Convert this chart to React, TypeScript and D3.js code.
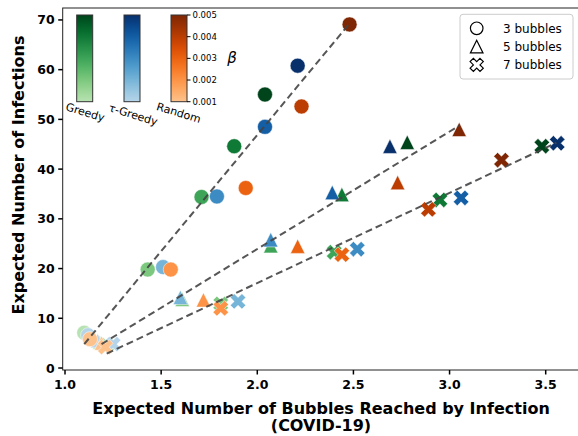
import * as d3 from 'd3';
import React, { useEffect, useRef } from 'react';

// beta values (colour scale) and method names
const betas = [0.001, 0.002, 0.003, 0.004, 0.005];
const methods = ['Greedy', 'τ-Greedy', 'Random'];
const bubbleLabels = ['3 bubbles', '5 bubbles', '7 bubbles'];

// 3 bubbles (circles)
const greedy3X = [1.10, 1.43, 1.71, 1.88, 2.04];
const greedy3Y = [7.1, 19.8, 34.4, 44.6, 55.0];
const tau3X = [1.12, 1.51, 1.79, 2.04, 2.21];
const tau3Y = [6.6, 20.3, 34.5, 48.5, 60.8];
const rand3X = [1.13, 1.55, 1.94, 2.23, 2.48];
const rand3Y = [5.8, 19.8, 36.2, 52.6, 69.1];

// 5 bubbles (triangles)
const greedy5X = [1.18, 1.61, 2.07, 2.44, 2.78];
const greedy5Y = [5.2, 13.8, 24.6, 34.9, 45.4];
const tau5X = [1.17, 1.60, 2.07, 2.39, 2.69];
const tau5Y = [5.5, 14.2, 25.8, 35.3, 44.6];
const rand5X = [1.19, 1.72, 2.21, 2.73, 3.05];
const rand5Y = [5.0, 13.7, 24.5, 37.3, 48.0];

// 7 bubbles (crosses)
const greedy7X = [1.22, 1.81, 2.40, 2.95, 3.48];
const greedy7Y = [4.6, 12.9, 23.3, 33.8, 44.6];
const tau7X = [1.25, 1.90, 2.52, 3.06, 3.56];
const tau7Y = [4.8, 13.4, 23.9, 34.2, 45.2];
const rand7X = [1.21, 1.81, 2.44, 2.89, 3.27];
const rand7Y = [4.2, 12.0, 22.8, 31.9, 41.8];

// fitted trend lines, [x0, y0, x1, y1]
const fit3 = [1.10, 4.8, 2.48, 69.3];
const fit5 = [1.19, 4.8, 3.053, 48.8];
const fit7 = [1.217, 2.9, 3.556, 45.3];

const xTicks = [1.0, 1.5, 2.0, 2.5, 3.0, 3.5];
const yTicks = [0, 10, 20, 30, 40, 50, 60, 70];
const cbTicks = [0.001, 0.002, 0.003, 0.004, 0.005];

const FONT = 'DejaVu Sans';

const App = () => {
  const svgRef = useRef();

  useEffect(() => {
    const svg = d3.select(svgRef.current);
    svg.selectAll('*').remove();

    const x = d3.scaleLinear().domain([0.988, 3.668]).range([62.7, 578]);
    const y = d3.scaleLinear().domain([-0.4, 72.4]).range([370, 8]);

    const interps = [d3.interpolateGreens, d3.interpolateBlues, d3.interpolateOranges];
    const tOf = d3.scaleLinear().domain([0.001, 0.005]).range([0.3, 1.0]);
    const colorOf = (m, b) => interps[m](tOf(b));

    // marker shapes
    const circlePath = (r) => d3.symbol(d3.symbolCircle, Math.PI * r * r)();
    const trianglePath = (h) => `M0,${-h}L${-h},${h}L${h},${h}Z`;
    const crossPath = (a) => {
      const pts = [[-1, -3], [1, -3], [1, -1], [3, -1], [3, 1], [1, 1], [1, 3], [-1, 3], [-1, 1], [-3, 1], [-3, -1], [-1, -1]];
      const c = Math.SQRT1_2;
      return d3.line()(pts.map(([px, py]) => {
        const sx = (px * a) / 3;
        const sy = (py * a) / 3;
        return [sx * c - sy * c, sx * c + sy * c];
      })) + 'Z';
    };
    const shapes = [circlePath(7.5), trianglePath(7.2), crossPath(8.2)];

    // axes frame
    svg.append('rect')
      .attr('x', 62.7).attr('y', 8)
      .attr('width', 578 - 62.7 + 2).attr('height', 370 - 8)
      .attr('fill', 'none').attr('stroke', '#222').attr('stroke-width', 1);

    // points, grouped by method then bubble count
    const series = [
      [[greedy3X, greedy3Y], [greedy5X, greedy5Y], [greedy7X, greedy7Y]],
      [[tau3X, tau3Y], [tau5X, tau5Y], [tau7X, tau7Y]],
      [[rand3X, rand3Y], [rand5X, rand5Y], [rand7X, rand7Y]]
    ];
    const pts = [];
    series.forEach((byBubble, m) => {
      byBubble.forEach(([xs, ys], k) => {
        xs.forEach((v, i) => pts.push({ m, k, x: v, y: ys[i], b: betas[i] }));
      });
    });

    svg.append('g')
      .selectAll('path')
      .data(pts)
      .enter()
      .append('path')
      .attr('d', (d) => shapes[d.k])
      .attr('transform', (d) => `translate(${x(d.x)},${y(d.y)})`)
      .attr('fill', (d) => colorOf(d.m, d.b))
      .attr('stroke', 'white')
      .attr('stroke-width', 0.5);

    // dashed fit lines
    svg.append('g')
      .selectAll('line')
      .data([fit3, fit5, fit7])
      .enter()
      .append('line')
      .attr('x1', (d) => x(d[0])).attr('y1', (d) => y(d[1]))
      .attr('x2', (d) => x(d[2])).attr('y2', (d) => y(d[3]))
      .attr('stroke', '#444')
      .attr('stroke-opacity', 0.9)
      .attr('stroke-width', 2)
      .attr('stroke-dasharray', '7,4');

    // x axis
    const xAxis = svg.append('g').attr('transform', 'translate(0,370)');
    xTicks.forEach((t) => {
      xAxis.append('line').attr('x1', x(t)).attr('x2', x(t)).attr('y1', 0).attr('y2', 4.5)
        .attr('stroke', '#000').attr('stroke-width', 1.5);
      xAxis.append('text').attr('x', x(t)).attr('y', 18.5).attr('text-anchor', 'middle')
        .attr('font-family', FONT).attr('font-weight', 'bold').attr('font-size', 12.5)
        .text(t.toFixed(1));
    });

    // y axis
    const yAxis = svg.append('g').attr('transform', 'translate(62.7,0)');
    yTicks.forEach((t) => {
      yAxis.append('line').attr('x1', -4.5).attr('x2', 0).attr('y1', y(t)).attr('y2', y(t))
        .attr('stroke', '#000').attr('stroke-width', 1.5);
      yAxis.append('text').attr('x', -8).attr('y', y(t) + 4.5).attr('text-anchor', 'end')
        .attr('font-family', FONT).attr('font-weight', 'bold').attr('font-size', 12.5)
        .text(t);
    });

    // axis labels
    svg.append('text').attr('x', 321).attr('y', 413.5).attr('text-anchor', 'middle')
      .attr('font-family', FONT).attr('font-weight', 'bold').attr('font-size', 16)
      .text('Expected Number of Bubbles Reached by Infection');
    svg.append('text').attr('x', 321).attr('y', 431).attr('text-anchor', 'middle')
      .attr('font-family', FONT).attr('font-weight', 'bold').attr('font-size', 16)
      .text('(COVID-19)');
    svg.append('text')
      .attr('transform', 'translate(24,175) rotate(-90)')
      .attr('text-anchor', 'middle')
      .attr('font-family', FONT).attr('font-weight', 'bold').attr('font-size', 16)
      .text('Expected Number of Infections');

    // colorbars
    const defs = svg.append('defs');
    const cbX = [76.7, 124, 171];
    const cbW = 16;
    const cb = d3.scaleLinear().domain([0.001, 0.005]).range([101.7, 15]);
    interps.forEach((f, m) => {
      const grad = defs.append('linearGradient').attr('id', `cb${m}`)
        .attr('x1', 0).attr('y1', 1).attr('x2', 0).attr('y2', 0);
      d3.range(0, 1.0001, 0.1).forEach((s) => {
        grad.append('stop').attr('offset', s).attr('stop-color', f(0.3 + 0.7 * s));
      });
      svg.append('rect')
        .attr('x', cbX[m]).attr('y', cb(0.005))
        .attr('width', cbW).attr('height', cb(0.001) - cb(0.005))
        .attr('fill', `url(#cb${m})`)
        .attr('stroke', '#333').attr('stroke-width', 1);
    });
    const cbLabelPos = [[85, 113], [133, 115.5], [178.5, 113.5]];
    methods.forEach((name, m) => {
      svg.append('text')
        .attr('transform', `translate(${cbLabelPos[m][0]},${cbLabelPos[m][1]}) rotate(17)`)
        .attr('text-anchor', 'middle').attr('dominant-baseline', 'middle')
        .attr('font-family', FONT).attr('font-size', 11)
        .text(name);
    });
    cbTicks.forEach((t) => {
      svg.append('line').attr('x1', cbX[2] + cbW).attr('x2', cbX[2] + cbW + 3.5)
        .attr('y1', cb(t)).attr('y2', cb(t)).attr('stroke', '#000').attr('stroke-width', 1);
      svg.append('text').attr('x', cbX[2] + cbW + 5.5).attr('y', cb(t) + 3)
        .attr('font-family', FONT).attr('font-size', 8.5)
        .text(t.toFixed(3));
    });
    svg.append('text').attr('x', 232).attr('y', 63).attr('text-anchor', 'middle')
      .attr('font-family', FONT).attr('font-style', 'italic').attr('font-size', 15)
      .text('β');

    // legend
    const legend = svg.append('g');
    legend.append('rect')
      .attr('x', 460).attr('y', 14.3).attr('width', 113).attr('height', 64.7)
      .attr('rx', 3).attr('fill', 'white').attr('stroke', '#ccc').attr('stroke-width', 1);
    const legShapes = [circlePath(6.3), trianglePath(6.3), crossPath(7)];
    bubbleLabels.forEach((lab, k) => {
      const ly = 28.3 + k * 18.3;
      legend.append('path').attr('d', legShapes[k])
        .attr('transform', `translate(476.7,${ly})`)
        .attr('fill', 'white').attr('stroke', '#000').attr('stroke-width', 1.2);
      legend.append('text').attr('x', 503).attr('y', ly + 4.3)
        .attr('font-family', FONT).attr('font-size', 12)
        .text(lab);
    });
  }, []);

  return (
    <svg
      ref={svgRef}
      width={578}
      height={436}
      style={{ position: 'absolute', left: 0, top: 0, background: 'white' }}
    ></svg>
  );
};

export default App;
